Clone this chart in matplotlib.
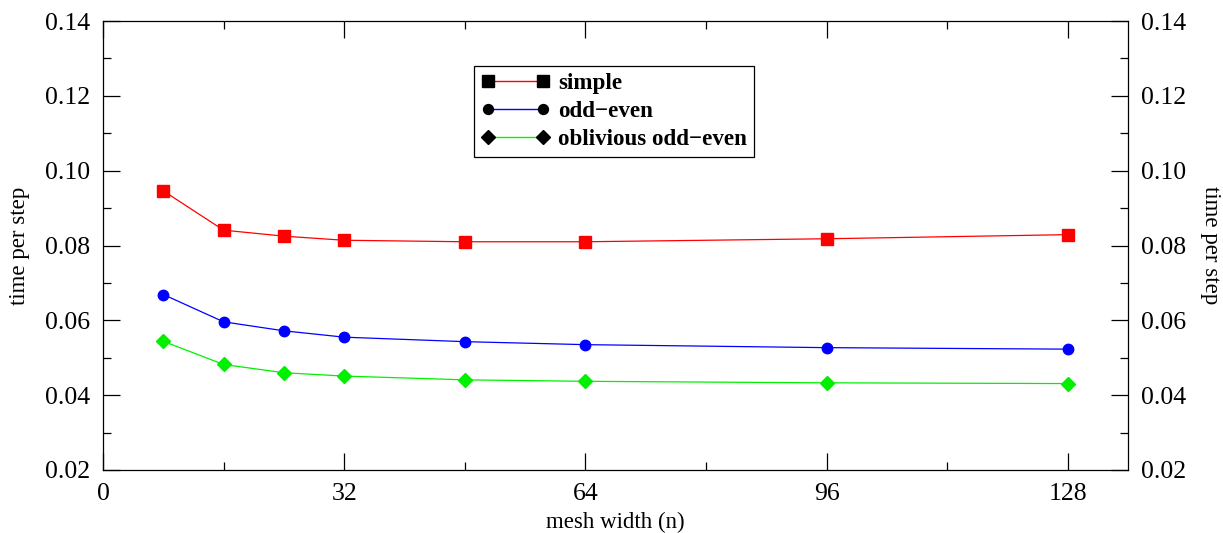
import matplotlib
matplotlib.use("Agg")
import matplotlib.pyplot as plt
from matplotlib.lines import Line2D
from matplotlib.ticker import MultipleLocator

plt.rcParams['font.family'] = ['Liberation Serif', 'DejaVu Serif']

mesh_width = [8, 16, 24, 32, 48, 64, 96, 128]
simple = [0.0946, 0.0841, 0.0825, 0.0814, 0.0810, 0.0810, 0.0818, 0.0829]
odd_even = [0.0669, 0.0596, 0.0572, 0.0555, 0.0543, 0.0535, 0.0527, 0.0523]
oblivious = [0.0544, 0.0482, 0.0460, 0.0451, 0.0441, 0.0437, 0.0433, 0.0431]
labels = ["simple", "odd\u2212even", "oblivious odd\u2212even"]
x_ticks = [0, 32, 64, 96, 128]
y_ticks = [0.02, 0.04, 0.06, 0.08, 0.10, 0.12, 0.14]

fig = plt.figure(figsize=(12.23, 5.33), dpi=100)
ax = fig.add_axes([103/1223, 1-470/533, (1128-103)/1223, (470-21)/533])

series = [(simple, '#ff0000', 's', 8.5), (odd_even, '#0000ff', 'o', 7.5), (oblivious, '#00f000', 'D', 7.5)]
for vals, c, m, ms in series:
    ax.plot(mesh_width, vals, color=c, lw=0.9, marker=m, ms=ms, mfc=c, mec=c)

ax.set_xlim(0, 136)
ax.set_ylim(0.02, 0.14)
ax.set_xticks(x_ticks)
ax.set_yticks(y_ticks)
ax.set_yticklabels([f"{v:.2f}" for v in y_ticks])
ax.xaxis.set_minor_locator(MultipleLocator(16))
ax.yaxis.set_minor_locator(MultipleLocator(0.01))
ax.tick_params(which='both', direction='in', top=True, right=True, labelright=True,
               labelsize=18.5, width=0.9)
ax.tick_params(axis='y', which='major', pad=9)
ax.tick_params(axis='x', which='major', pad=9)
ax.tick_params(which='major', length=12)
ax.tick_params(which='minor', length=6)
for s in ax.spines.values():
    s.set_linewidth(0.9)

ax.set_xlabel("mesh width (n)", fontsize=16.5, labelpad=5)
ax.text((20 - 103) / 1025, 0.5, "time per step", transform=ax.transAxes,
        rotation=90, ha='center', va='center', fontsize=16.5)
ax.text((1211 - 103) / 1025, 0.5, "time per step", transform=ax.transAxes,
        rotation=270, ha='center', va='center', fontsize=16.5)

handles = [Line2D([0], [0], color=c, lw=1.0, marker=m, ms=ms * 0.95, mfc='black', mec='black')
           for (_, c, m, ms) in series]
leg = fig.legend(handles, labels, loc='upper left', bbox_to_anchor=(474/1223, 1-66/533),
                 numpoints=2, handlelength=3.0, handletextpad=0.35, labelspacing=0.3,
                 borderpad=0.3, borderaxespad=0, fancybox=False, framealpha=1,
                 edgecolor='black', prop={'weight': 'bold', 'size': 16.6})
leg.get_frame().set_linewidth(0.9)

fig.savefig("out.png", dpi=100)
